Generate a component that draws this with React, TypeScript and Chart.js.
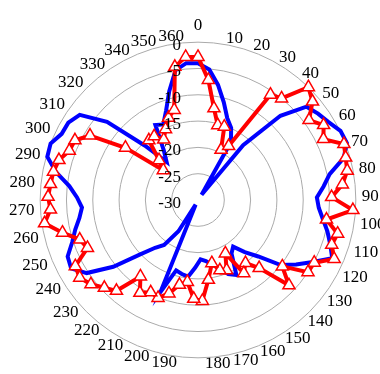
import React, { useEffect, useRef } from "react";
import { Chart, registerables } from "chart.js";

Chart.register(...registerables);

const FONT = "'Liberation Serif', 'Times New Roman', serif";

// angular categories (degrees)
const angleLabels: string[] = [
  "0", "5", "10", "15", "20", "25", "30", "35", "40", "45", "50", "55", "60", "65", "70", "75",
  "80", "85", "90", "95", "100", "105", "110", "115", "120", "125", "130", "135", "140", "145",
  "150", "155", "160", "165", "170", "175", "180", "185", "190", "195", "200", "205", "210", "215",
  "220", "225", "230", "235", "240", "245", "250", "255", "260", "265", "270", "275", "280", "285",
  "290", "295", "300", "305", "310", "315", "320", "325", "330", "335", "340", "345", "350", "355", "360",
];

// red series (with triangle markers), dB
const redSeries: number[] = [
  -2.8, -7.1, -12.3, -15.3, -15.2, -19.5, -18.2, -5.7, -5.0, 0, -1.3, -4.0, -2.2, -3.5, -0.3, -0.8,
  -1.1, -2.4, -4.6, -0.5, -5.3, -2.7, -3.2, -1.8, -4.9, -5.0, -9.6, -6.3, -12.6, -15.0, -13.6, -18.6,
  -15.6, -16.0, -17.7, -14.7, -10.8, -11.2, -14.3, -13.5, -11.4, -9.9, -10.3, -9.2, -11.8, -6.8, -5.6,
  -4.1, -3.1, -3.5, -7.1, -6.3, -3.5, -0.5, -1.9, -1.5, -1.8, -2.0, -2.5, -3.8, -4.0, -6.1, -13.0,
  -21.3, -19.4, -15.3, -15.3, -16.8, -15.2, -13.4, -12.3, -4.3, -2.7,
];

// blue series (line only), dB
const blueSeries: number[] = [
  -4.0, -5.1, -7.8, -10.8, -13.5, -14.9, -17.3, -28.8, -16.5, -7.6, -2.8, -1.9, -1.1, 0.1, 0.3, -1.2,
  -4.5, -6.0, -7.4, -7.0, -6.0, -4.7, -3.5, -2.2, -5.2, -7.7, -10.0, -14.3, -16.7, -18.9, -18.0, -14.0,
  -14.8, -16.5, -17.4, -18.3, -18.7, -17.1, -15.3, -15.6, -16.0, -11.1, -29.0, -23.0, -19.3, -17.8,
  -14.8, -9.5, -4.7, -2.6, -3.0, -4.8, -6.0, -7.2, -7.9, -7.0, -5.4, -2.5, -0.2, 0, -1.2, -1.3, -2.3,
  -7.2, -15.5, -20.6, -18.5, -13.6, -14.2, -12.0, -8.6, -5.0, -3.9,
];

// radial axis range / tick step
const radialMin = -30;
const radialMax = 0;
const radialStep = 5;

const radialTickLabels = {
  id: "radialTickLabels",
  afterDatasetsDraw(chart: any) {
    const s = chart.scales.r;
    const ctx = chart.ctx;
    ctx.save();
    ctx.font = `17px ${FONT}`;
    ctx.fillStyle = "#000";
    ctx.textAlign = "right";
    ctx.textBaseline = "middle";
    s.ticks.forEach((t: any) => {
      const d = s.getDistanceFromCenterForValue(t.value);
      ctx.fillText(String(t.value), s.xCenter - 17, s.yCenter - d + 3.5);
    });
    ctx.restore();
  },
};

export default function App() {
  const ref = useRef<HTMLCanvasElement>(null);

  useEffect(() => {
    if (!ref.current) return;
    const chart = new Chart(ref.current, {
      type: "radar",
      data: {
        labels: angleLabels,
        datasets: [
          {
            data: redSeries,
            borderColor: "#ff0000",
            borderWidth: 4,
            fill: false,
            pointStyle: "triangle",
            pointRadius: 7,
            pointBackgroundColor: "#ffffff",
            pointBorderColor: "#ff0000",
            pointBorderWidth: 1.5,
          },
          {
            data: blueSeries,
            borderColor: "#0000ff",
            borderWidth: 4,
            fill: false,
            pointRadius: 0,
          },
        ],
      },
      options: {
        responsive: false,
        animation: false,
        plugins: { legend: { display: false }, tooltip: { enabled: false } },
        elements: { line: { tension: 0 } },
        scales: {
          r: {
            min: radialMin,
            max: radialMax,
            ticks: { display: false, stepSize: radialStep },
            grid: { circular: true, color: "#aaaaaa", lineWidth: 1 },
            angleLines: { display: false },
            pointLabels: {
              display: true,
              padding: 6,
              color: "#000",
              font: (c: any) => ({ family: FONT, size: 17, lineHeight: c.index === 0 ? 1.2 : 0.01 }),
              callback: (label: string) => (Number(label) % 10 === 0 ? label : ""),
            },
          },
        },
      },
      plugins: [radialTickLabels],
    } as any);
    return () => chart.destroy();
  }, []);

  return (
    <div
      style={{
        position: "fixed",
        left: 0,
        top: 0,
        width: 380,
        height: 374,
        overflow: "hidden",
        background: "#fff",
      }}
    >
      <canvas
        ref={ref}
        width={378}
        height={378}
        style={{ position: "absolute", left: 9, top: 1, width: 378, height: 378 }}
      />
    </div>
  );
}
